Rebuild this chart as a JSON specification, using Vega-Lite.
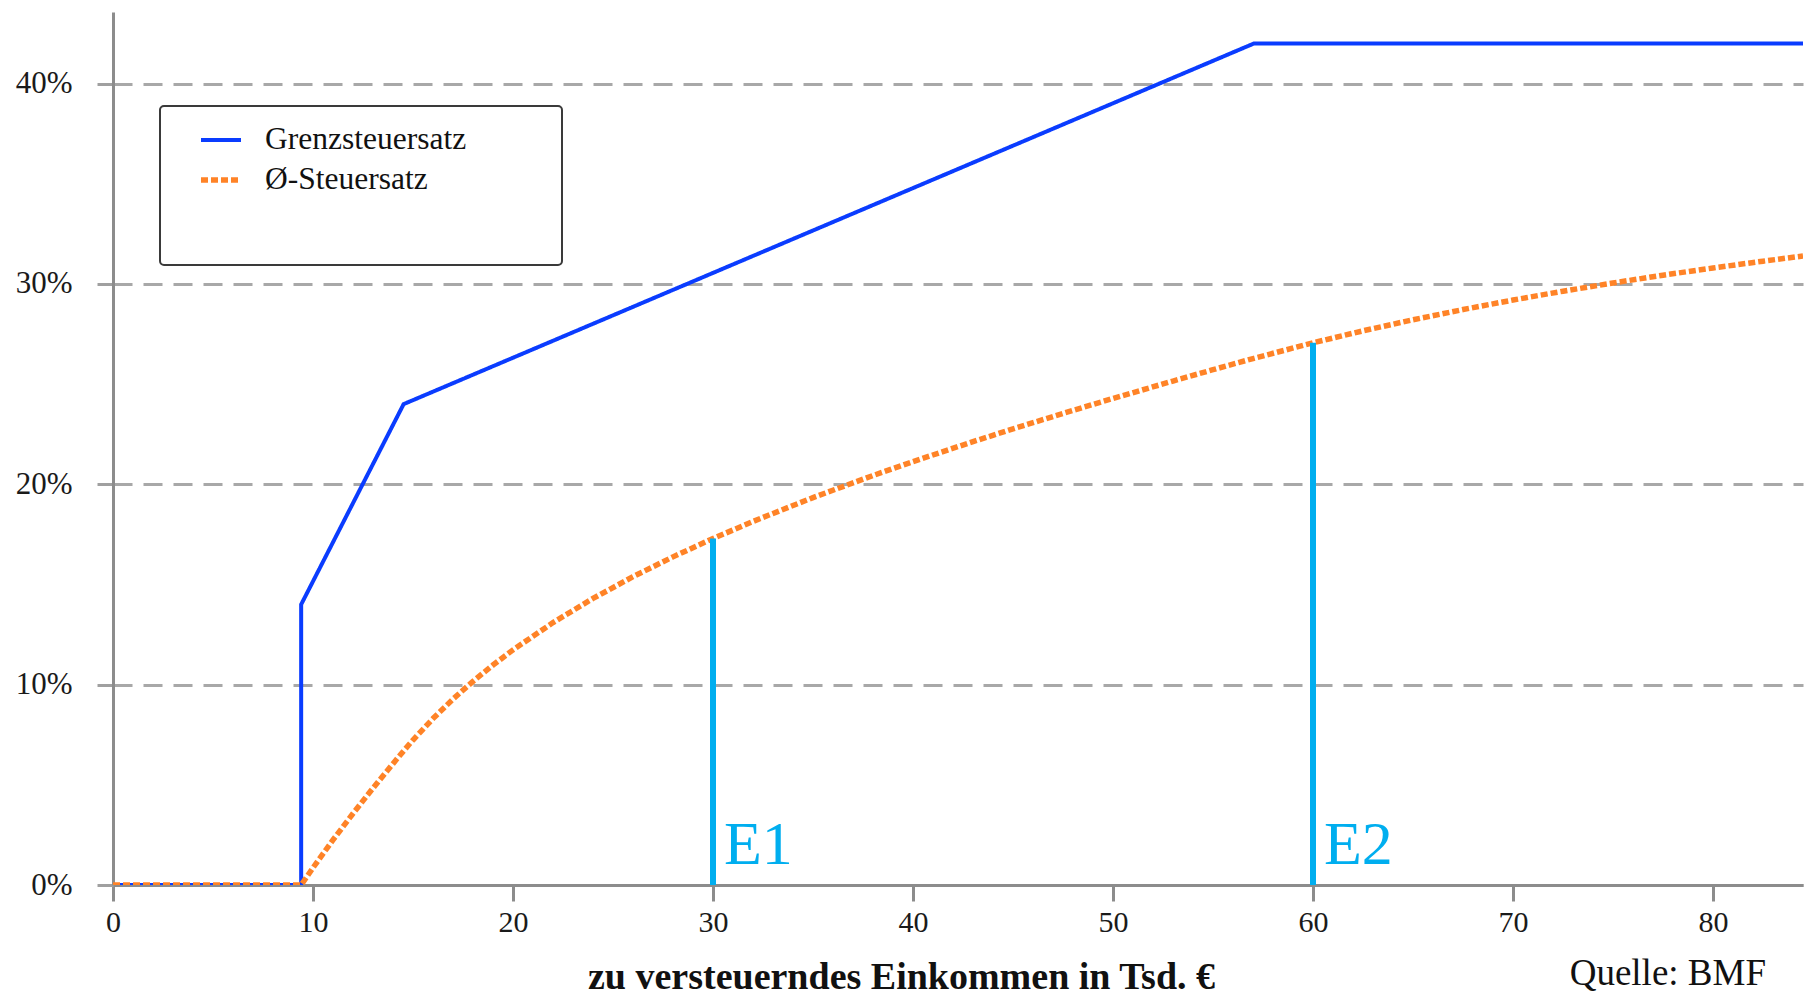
{
  "$schema": "https://vega.github.io/schema/vega-lite/v6.json",
  "width": 1690,
  "height": 873,
  "autosize": {"type": "none"},
  "padding": {"left": 113, "top": 12, "right": 3, "bottom": 110},
  "background": "white",
  "title": {
    "text": "Quelle: BMF",
    "orient": "bottom",
    "anchor": "end",
    "font": "Liberation Serif",
    "fontSize": 37,
    "fontWeight": "normal",
    "color": "#111111",
    "dx": -37,
    "offset": -40
  },
  "datasets": {
    "lines": [
      {"x": 0, "y": 0, "s": "Grenzsteuersatz"},
      {"x": 9.408, "y": 0, "s": "Grenzsteuersatz"},
      {"x": 9.408, "y": 0.14, "s": "Grenzsteuersatz"},
      {"x": 14.532, "y": 0.24, "s": "Grenzsteuersatz"},
      {"x": 57.051, "y": 0.42, "s": "Grenzsteuersatz"},
      {"x": 84.5, "y": 0.42, "s": "Grenzsteuersatz"},
      {"x": 0, "y": 0, "s": "Ø-Steuersatz"},
      {"x": 9.408, "y": 0, "s": "Ø-Steuersatz"},
      {"x": 10, "y": 0.00863, "s": "Ø-Steuersatz"},
      {"x": 11, "y": 0.0225, "s": "Ø-Steuersatz"},
      {"x": 12, "y": 0.03569, "s": "Ø-Steuersatz"},
      {"x": 13, "y": 0.04834, "s": "Ø-Steuersatz"},
      {"x": 14, "y": 0.06057, "s": "Ø-Steuersatz"},
      {"x": 14.532, "y": 0.06694, "s": "Ø-Steuersatz"},
      {"x": 15, "y": 0.07236, "s": "Ø-Steuersatz"},
      {"x": 16, "y": 0.08308, "s": "Ø-Steuersatz"},
      {"x": 17, "y": 0.09278, "s": "Ø-Steuersatz"},
      {"x": 18, "y": 0.10164, "s": "Ø-Steuersatz"},
      {"x": 19, "y": 0.10979, "s": "Ø-Steuersatz"},
      {"x": 20, "y": 0.11734, "s": "Ø-Steuersatz"},
      {"x": 22, "y": 0.13096, "s": "Ø-Steuersatz"},
      {"x": 24, "y": 0.14301, "s": "Ø-Steuersatz"},
      {"x": 26, "y": 0.15387, "s": "Ø-Steuersatz"},
      {"x": 28, "y": 0.16377, "s": "Ø-Steuersatz"},
      {"x": 30, "y": 0.17292, "s": "Ø-Steuersatz"},
      {"x": 32, "y": 0.18146, "s": "Ø-Steuersatz"},
      {"x": 35, "y": 0.19335, "s": "Ø-Steuersatz"},
      {"x": 38, "y": 0.20436, "s": "Ø-Steuersatz"},
      {"x": 40, "y": 0.21132, "s": "Ø-Steuersatz"},
      {"x": 43, "y": 0.22128, "s": "Ø-Steuersatz"},
      {"x": 45, "y": 0.22765, "s": "Ø-Steuersatz"},
      {"x": 48, "y": 0.23687, "s": "Ø-Steuersatz"},
      {"x": 50, "y": 0.24283, "s": "Ø-Steuersatz"},
      {"x": 53, "y": 0.25153, "s": "Ø-Steuersatz"},
      {"x": 55, "y": 0.25718, "s": "Ø-Steuersatz"},
      {"x": 57.051, "y": 0.26288, "s": "Ø-Steuersatz"},
      {"x": 60, "y": 0.2706, "s": "Ø-Steuersatz"},
      {"x": 62.5, "y": 0.27658, "s": "Ø-Steuersatz"},
      {"x": 65, "y": 0.2821, "s": "Ø-Steuersatz"},
      {"x": 67.5, "y": 0.2872, "s": "Ø-Steuersatz"},
      {"x": 70, "y": 0.29195, "s": "Ø-Steuersatz"},
      {"x": 72.5, "y": 0.29636, "s": "Ø-Steuersatz"},
      {"x": 75, "y": 0.30048, "s": "Ø-Steuersatz"},
      {"x": 77.5, "y": 0.30434, "s": "Ø-Steuersatz"},
      {"x": 80, "y": 0.30795, "s": "Ø-Steuersatz"},
      {"x": 82.5, "y": 0.31135, "s": "Ø-Steuersatz"},
      {"x": 84.5, "y": 0.31392, "s": "Ø-Steuersatz"}
    ],
    "marks": [
      {"x": 30, "y0": 0, "y1": 0.1729, "label": "E1"},
      {"x": 60, "y0": 0, "y1": 0.2706, "label": "E2"}
    ]
  },
  "config": {
    "view": {"stroke": null},
    "font": "Liberation Serif"
  },
  "layer": [
    {
      "data": {"name": "lines"},
      "mark": {"type": "line", "interpolate": "linear", "clip": true},
      "encoding": {
        "x": {
          "field": "x",
          "type": "quantitative",
          "scale": {"domain": [0, 84.5], "nice": false, "zero": false},
          "axis": {
            "values": [0, 10, 20, 30, 40, 50, 60, 70, 80],
            "grid": false,
            "domainColor": "#8c8c8c",
            "domainWidth": 3,
            "tickColor": "#8c8c8c",
            "tickWidth": 3,
            "tickSize": 16,
            "labelFont": "Liberation Serif",
            "labelFontSize": 30,
            "labelColor": "#1a1a1a",
            "labelPadding": 6,
            "labelFlush": false,
            "title": "zu versteuerndes Einkommen in Tsd. €",
            "titleFont": "Liberation Serif",
            "titleFontSize": 38,
            "titleFontWeight": "bold",
            "titleColor": "#111111",
            "titleX": 788,
            "titleY": 103,
            "titleAlign": "center",
            "titleBaseline": "alphabetic"
          }
        },
        "y": {
          "field": "y",
          "type": "quantitative",
          "scale": {"domain": [0, 0.4357], "nice": false},
          "axis": {
            "values": [0, 0.1, 0.2, 0.3, 0.4],
            "format": ".0%",
            "grid": true,
            "gridColor": "#a8a8a8",
            "gridWidth": 3,
            "gridDash": [19, 11],
            "domainColor": "#8c8c8c",
            "domainWidth": 3,
            "tickColor": "#a0a0a0",
            "tickWidth": 3,
            "tickSize": 16,
            "labelFont": "Liberation Serif",
            "labelFontSize": 31,
            "labelColor": "#1a1a1a",
            "labelPadding": 25,
            "title": null
          }
        },
        "color": {
          "field": "s",
          "type": "nominal",
          "scale": {"domain": ["Grenzsteuersatz", "Ø-Steuersatz"], "range": ["#0a3cff", "#ff8327"]},
          "legend": {
            "orient": "none",
            "legendX": 47,
            "legendY": 94,
            "title": "\u200b\u00a0\u00a0\u00a0\u00a0\u00a0\u00a0\u00a0\u00a0\u00a0\u00a0\u00a0\u00a0\u00a0\u00a0\u00a0\u00a0\u00a0\u00a0\u00a0\u00a0\u00a0\u00a0\u00a0\u00a0\u00a0\u00a0\u00a0\u00a0\u00a0\u00a0\u00a0\u00a0\u00a0\u00a0\u00a0\u00a0\u00a0\u00a0\u00a0\u00a0\u00a0\u00a0\u00a0\u00a0\u00a0\u00a0\u00a0\u00a0\u00a0\u00a0\u200b",
            "titleOrient": "bottom",
            "titleFont": "Liberation Serif",
            "titleFontSize": 30.2,
            "titleLimit": 1000,
            "titlePadding": 26.5,
            "padding": 12,
            "strokeColor": "#3a3a3a",
            "cornerRadius": 4,
            "fillColor": "white",
            "symbolType": "stroke",
            "symbolSize": 1600,
            "symbolStrokeWidth": 3.5,
            "symbolOffset": 26,
            "labelOffset": 21,
            "labelFont": "Liberation Serif",
            "labelFontSize": 31.5,
            "labelColor": "#111111",
            "rowPadding": 1,
            "labelLimit": 400,
            "encode": {
              "legend": {"update": {"strokeWidth": {"value": 2}}}
            }
          }
        },
        "strokeDash": {
          "field": "s",
          "type": "nominal",
          "scale": {"domain": ["Grenzsteuersatz", "Ø-Steuersatz"], "range": [[1, 0], [7, 3]]}
        },
        "strokeWidth": {
          "field": "s",
          "type": "nominal",
          "scale": {"domain": ["Grenzsteuersatz", "Ø-Steuersatz"], "range": [4, 5.5]},
          "legend": null
        }
      }
    },
    {
      "data": {"name": "marks"},
      "mark": {"type": "rule", "color": "#00aeef", "strokeWidth": 6},
      "encoding": {
        "x": {"field": "x", "type": "quantitative"},
        "y": {"field": "y0", "type": "quantitative"},
        "y2": {"field": "y1"}
      }
    },
    {
      "data": {"name": "marks"},
      "mark": {"type": "text", "color": "#00aeef", "font": "Liberation Serif", "fontSize": 62, "align": "left", "baseline": "alphabetic", "dx": 11, "dy": -21},
      "encoding": {
        "x": {"field": "x", "type": "quantitative"},
        "y": {"field": "y0", "type": "quantitative"},
        "text": {"field": "label"}
      }
    }
  ]
}
